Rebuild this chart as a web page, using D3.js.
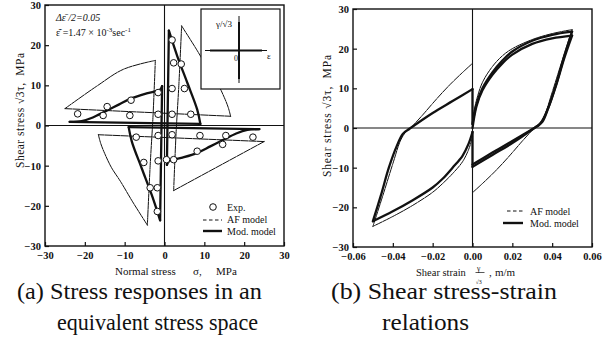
<!DOCTYPE html>
<html><head><meta charset="utf-8">
<script src="https://cdn.jsdelivr.net/npm/d3@7"></script>
<style>
body{margin:0;background:#fff;}
svg{display:block;}
text{font-family:"Liberation Serif","Times New Roman",serif;fill:#111;}
</style></head>
<body>
<svg id="c" width="609" height="341"></svg>
<script>
// ---------- data ----------
const stressTicks = [-30,-20,-10,0,10,20,30];
const strainTicks = [-0.06,-0.04,-0.02,0.00,0.02,0.04,0.06];

// Experimental points (sigma, sqrt3 tau) in MPa
const expSigma = [-21.8,-14.4,-15.4,-8.4,-8.7,-1.6,-1.6,1.9,6.6,1.9,5.0,2.3,4.2,1.9,
                  -7.1,-1.6,1.9,8.9,15.4,14.6,22.2,8.2,-5.2,-1.6,0.5,2.3,-3.6,-1.8,-1.8];
const expTau   = [2.9,4.7,2.5,6.3,2.5,8.2,2.8,2.8,2.8,9.2,9.2,15.6,15.3,21.3,
                  -2.9,-2.5,-2.3,-2.5,-2.5,-4.7,-2.9,-6.4,-9.2,-8.8,-8.5,-8.5,-15.5,-15.5,-21.4];

// AF model, stress space: segments of [sigma, sqrt3 tau]
const afStressSegments = [
  [[16.6,2.3],[16.0,4.5],[15.0,7.0],[13.3,10.5],[11.0,14.0],[8.0,19.0],[4.3,24.8]],
  [[4.3,24.8],[3.6,10.0],[2.9,-2.0],[2.3,-16.2]],
  [[2.3,-16.2],[25.0,-4.0]],
  [[25.0,-4.0],[-16.6,-2.3]],
  [[-16.6,-2.3],[-16.0,-4.5],[-15.0,-7.0],[-13.3,-10.5],[-11.0,-14.0],[-8.0,-19.0],[-4.3,-24.8]],
  [[-4.3,-24.8],[-3.6,-10.0],[-2.9,2.0],[-2.3,16.2]],
  [[-2.3,16.2],[-10.3,14.0],[-17.0,9.8],[-25.0,4.2]],
  [[-25.0,4.2],[16.6,2.3]]
];
// Modified model, stress space
const modStressSegments = [
  [[9.0,0.4],[8.2,4.0],[5.7,10.7],[3.2,17.3],[1.1,23.6]],
  [[1.1,23.6],[0.6,-9.8]],
  [[0.6,-9.8],[1.1,-8.9],[4.5,-8.0],[8.2,-6.8],[11.5,-5.2],[14.9,-3.5],[18.0,-2.0],[20.8,-1.1],[23.8,-0.9]],
  [[23.8,-0.9],[-9.0,-0.4]],
  [[-9.0,-0.4],[-8.2,-4.0],[-5.7,-10.7],[-3.2,-17.3],[-1.1,-23.6]],
  [[-1.1,-23.6],[-0.6,9.8]],
  [[-0.6,9.8],[-1.1,8.9],[-4.5,8.0],[-8.2,6.8],[-11.5,5.2],[-14.9,3.5],[-18.0,2.0],[-20.8,1.1],[-23.8,0.9]],
  [[-23.8,0.9],[9.0,0.4]]
];

// AF model, shear strain - stress: [gamma/sqrt3, sqrt3 tau]
const afStrainSegments = [
  [[0,2.3],[0.002,7],[0.005,11.5],[0.01,15.5],[0.015,18.2],[0.02,20],[0.03,22.3],[0.04,23.8],[0.05,24.8]],
  [[0.05,24.8],[0.045,17],[0.04,9],[0.036,3],[0.033,0.7],[0.031,0]],
  [[0.031,0],[0.025,-3.3],[0.02,-6.2],[0.015,-9],[0.01,-11.6],[0.005,-14],[0,-16.3]],
  [[0,-16.3],[0,-2.3]],
  [[0,-2.3],[-0.002,-5.5],[-0.005,-8.5],[-0.01,-11.5],[-0.015,-14],[-0.02,-16.2],[-0.03,-19.5],[-0.04,-22.3],[-0.05,-24.8]],
  [[-0.05,-24.8],[-0.045,-17],[-0.04,-9],[-0.036,-3],[-0.033,-0.7],[-0.031,0]],
  [[-0.031,0],[-0.025,3.3],[-0.02,6.2],[-0.015,9],[-0.01,11.6],[-0.005,14],[0,16.3]],
  [[0,16.3],[0,2.3]]
];
// Modified model, shear strain - stress (stabilised cycle)
const modStrainSegments = [
  [[0,1],[0.002,6],[0.005,10],[0.01,14],[0.015,17],[0.02,19.3],[0.03,22],[0.04,23.5],[0.05,24.3]],
  [[0.05,24.3],[0.046,18],[0.042,11],[0.038,5],[0.035,1.5],[0.032,0.3]],
  [[0.032,0.3],[0.02,-3.8],[0.01,-6.8],[0,-9.8]],
  [[0,-9.8],[0,-1]],
  [[0,-1],[-0.002,-4],[-0.005,-7],[-0.01,-10],[-0.015,-12.8],[-0.02,-15],[-0.03,-18.2],[-0.04,-21],[-0.05,-23.5]],
  [[-0.05,-23.5],[-0.046,-17],[-0.042,-10],[-0.038,-4.5],[-0.035,-1.5],[-0.032,-0.3]],
  [[-0.032,-0.3],[-0.02,3.8],[-0.01,6.8],[0,9.8]],
  [[0,9.8],[0,1]]
];
// Modified model, earlier cycle (upper-right loop, slightly lower)
const modStrainEarly = [
  [[0,0],[0.002,5.5],[0.005,9.5],[0.01,13.4],[0.015,16.3],[0.02,18.5],[0.03,21.2],[0.04,22.6],[0.05,23.3]],
  [[0.05,23.3],[0.046,17.5],[0.042,10.8],[0.038,5],[0.035,1.8],[0.033,0.6]],
  [[0.033,0.6],[0.02,-3.3],[0.01,-6.2],[0,-9.2]]
];

// ---------- drawing ----------
const svg = d3.select("#c");
svg.append("rect").attr("width",609).attr("height",341).attr("fill","#fff");

const xL = d3.scaleLinear().domain([-30,30]).range([45,284]);
const yL = d3.scaleLinear().domain([-30,30]).range([246,5]);
const xR = d3.scaleLinear().domain([-0.06,0.06]).range([353,592]);
const yR = d3.scaleLinear().domain([-30,30]).range([247,9]);

function panel(x, y, xTicks, xFmt, pad){
  const g = svg.append("g");
  const [x0,x1] = x.range(), [y1,y0] = y.range();
  const ax = g.append("g").attr("transform",`translate(0,${y1})`)
    .call(d3.axisBottom(x).tickValues(xTicks).tickFormat(xFmt).tickSizeInner(-4).tickSizeOuter(0).tickPadding(pad));
  const ay = g.append("g").attr("transform",`translate(${x0},0)`)
    .call(d3.axisLeft(y).tickValues(stressTicks).tickFormat(d3.format("d")).tickSizeInner(-4).tickSizeOuter(0).tickPadding(4));
  [ax,ay].forEach(a=>{
    a.select(".domain").remove();
    a.selectAll("line").attr("stroke","#111").attr("stroke-width",1.2);
    a.selectAll("text").attr("font-family","Liberation Serif").attr("font-size",10.5)
      .attr("font-weight","bold").attr("fill","#111");
  });
  g.append("rect").attr("x",x0).attr("y",y0).attr("width",x1-x0).attr("height",y1-y0)
    .attr("fill","none").attr("stroke","#111").attr("stroke-width",1.4);
  g.append("line").attr("x1",x(0)).attr("x2",x(0)).attr("y1",y0).attr("y2",y1).attr("stroke","#111").attr("stroke-width",1.1);
  g.append("line").attr("x1",x0).attr("x2",x1).attr("y1",y(0)).attr("y2",y(0)).attr("stroke","#111").attr("stroke-width",1.1);
  return g;
}
panel(xL,yL,stressTicks,d3.format("d"),6);
panel(xR,yR,strainTicks,d3.format(".2f"),6);

function drawSegs(segs,x,y,cls){
  const line = d3.line().x(d=>x(d[0])).y(d=>y(d[1])).curve(d3.curveCatmullRom.alpha(0.5));
  const sel = svg.append("g").selectAll("path").data(segs).join("path")
    .attr("d",line).attr("fill","none").attr("stroke","#111")
    .attr("stroke-linejoin","round").attr("stroke-linecap","round");
  if(cls==="af") sel.attr("stroke-width",1).attr("stroke-dasharray","7,1");
  else sel.attr("stroke-width",2.3);
}
drawSegs(afStressSegments,xL,yL,"af");
drawSegs(modStressSegments,xL,yL,"mod");
drawSegs(afStrainSegments,xR,yR,"af");
drawSegs(modStrainEarly,xR,yR,"mod");
drawSegs(modStrainSegments,xR,yR,"mod");

svg.append("g").selectAll("circle").data(expSigma.map((s,i)=>[s,expTau[i]])).join("circle")
  .attr("cx",d=>xL(d[0])).attr("cy",d=>yL(d[1])).attr("r",3.3)
  .attr("fill","#fff").attr("stroke","#111").attr("stroke-width",1);

// ---------- annotations (left) ----------
const ann = svg.append("g").attr("font-size",10);
ann.append("text").attr("x",56).attr("y",21).attr("font-style","italic").text("Δε̄ /2=0.05");
const t2 = ann.append("text").attr("x",56).attr("y",36);
t2.append("tspan").text("ε̄̇ =1.47 × 10");
t2.append("tspan").attr("dy",-4).attr("font-size",7).text("-3");
t2.append("tspan").attr("dy",4).text("sec");
t2.append("tspan").attr("dy",-4).attr("font-size",7).text("-1");

// inset
const ins = svg.append("g");
ins.append("rect").attr("x",201).attr("y",9).attr("width",79).attr("height",80)
  .attr("fill","#fff").attr("stroke","#111").attr("stroke-width",1.2);
ins.append("line").attr("x1",205).attr("x2",267).attr("y1",50.5).attr("y2",50.5).attr("stroke","#111").attr("stroke-width",1);
ins.append("line").attr("x1",210).attr("x2",262).attr("y1",50.5).attr("y2",50.5).attr("stroke","#111").attr("stroke-width",2);
ins.append("line").attr("x1",239).attr("x2",239).attr("y1",16).attr("y2",83).attr("stroke","#111").attr("stroke-width",1);
ins.append("line").attr("x1",239).attr("x2",239).attr("y1",22).attr("y2",79).attr("stroke","#111").attr("stroke-width",2);
ins.append("text").attr("x",216).attr("y",27).attr("font-size",9).text("γ/√3");
ins.append("text").attr("x",267).attr("y",59).attr("font-size",9).text("ε");
ins.append("text").attr("x",234).attr("y",61).attr("font-size",8).text("0");

// legends
const lg = svg.append("g").attr("font-size",10);
lg.append("circle").attr("cx",213).attr("cy",207).attr("r",3.3).attr("fill","#fff").attr("stroke","#111");
lg.append("text").attr("x",227).attr("y",211).text("Exp.");
lg.append("line").attr("x1",203).attr("x2",222).attr("y1",220).attr("y2",220).attr("stroke","#111").attr("stroke-dasharray","3.5,2.5");
lg.append("text").attr("x",227).attr("y",223).text("AF model");
lg.append("line").attr("x1",203).attr("x2",222).attr("y1",231).attr("y2",231).attr("stroke","#111").attr("stroke-width",2.4);
lg.append("text").attr("x",227).attr("y",235).text("Mod. model");

lg.append("line").attr("x1",507).attr("x2",523).attr("y1",211).attr("y2",211).attr("stroke","#111").attr("stroke-dasharray","3.5,2.5");
lg.append("text").attr("x",530).attr("y",214.5).text("AF model");
lg.append("line").attr("x1",503).attr("x2",523).attr("y1",223).attr("y2",223).attr("stroke","#111").attr("stroke-width",2.4);
lg.append("text").attr("x",530).attr("y",226.5).text("Mod. model");

// axis titles
const at = svg.append("g").attr("font-size",11);
const nx = at.append("text").attr("y",275);
nx.append("tspan").attr("x",115).text("Normal stress");
nx.append("tspan").attr("x",193).text("σ,");
nx.append("tspan").attr("x",216).text("MPa");
function yTitle(tx,ty,len){
  at.append("text").attr("font-size",11.5).attr("transform",`translate(${tx},${ty}) rotate(-90)`)
    .attr("xml:space","preserve").attr("textLength",len).attr("lengthAdjust","spacing")
    .text("Shear stress √3τ,  MPa");
}
yTitle(24,168,115);
yTitle(331,177,122);
at.append("text").attr("x",416).attr("y",276).attr("font-size",10.5).text("Shear strain");
at.append("text").attr("x",477).attr("y",270.5).attr("font-size",7.5).text("γ");
at.append("line").attr("x1",475.5).attr("x2",484.5).attr("y1",272.5).attr("y2",272.5).attr("stroke","#111").attr("stroke-width",0.7);
at.append("text").attr("x",475.5).attr("y",283.5).attr("font-size",6).text("√3");
at.append("text").attr("x",489).attr("y",276).text(",");
at.append("text").attr("x",495).attr("y",276).text("m/m");

// captions
const cap = svg.append("g").attr("font-size",23);
const caps = [[17,299,245,"(a) Stress responses in an"],[57,330,201,"equivalent stress space"],
              [331,299,226,"(b) Shear stress-strain"],[382,330,87,"relations"]];
caps.forEach(c=>cap.append("text").attr("x",c[0]).attr("y",c[1]).attr("textLength",c[2])
  .attr("lengthAdjust","spacingAndGlyphs").text(c[3]));
</script>
</body></html>
